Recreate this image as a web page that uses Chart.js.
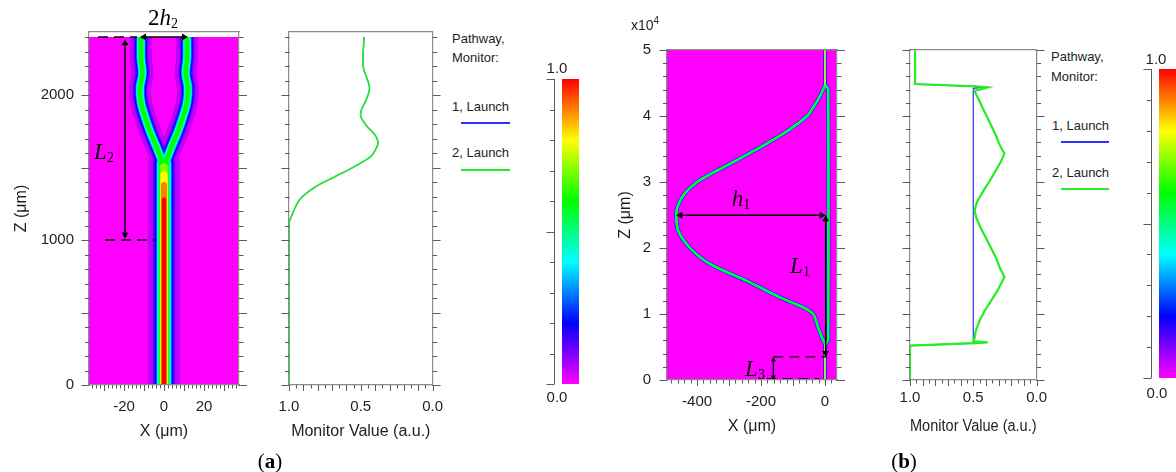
<!DOCTYPE html>
<html>
<head>
<meta charset="utf-8">
<title>Y-branch and coupler field maps</title>
<script src="https://cdn.jsdelivr.net/npm/chart.js@4.4.1/dist/chart.umd.min.js"></script>
<style>
  html, body { margin: 0; padding: 0; background: #fff; }
  #fig { position: relative; width: 1176px; height: 472px; overflow: hidden;
         font-family: 'Liberation Sans', Arial, sans-serif; color: #1e1e1e; }
  #fig canvas { position: absolute; top: 0; }
  .c { position: absolute; white-space: nowrap; line-height: 1; transform: translate(-50%, -50%); }
  .l { position: absolute; white-space: nowrap; line-height: 1; transform: translateY(-50%); font-size: 13px; }
  .key { position: absolute; height: 2px; }
  .sym { font-family: 'Liberation Serif', 'DejaVu Serif', serif; font-size: 23px; color: #000; }
  .sym i { font-style: italic; }
  .sym sub { font-size: 14px; vertical-align: -3px; }
  .cap { font-family: 'Liberation Serif', 'DejaVu Serif', serif; font-size: 21px; color: #000; }
</style>
</head>
<body>
<div id="fig">
  <canvas id="aMap" width="260" height="450" style="left:0"></canvas>
  <canvas id="aMon" width="190" height="450" style="left:260px"></canvas>
  <canvas id="aBar" width="60" height="450" style="left:530px"></canvas>
  <canvas id="bMap" width="255" height="450" style="left:600px"></canvas>
  <canvas id="bMon" width="180" height="450" style="left:870px"></canvas>
  <canvas id="bBar" width="80" height="450" style="left:1110px"></canvas>

  <!-- legends -->
  <div class="l" style="left:452px;top:38px">Pathway,</div>
  <div class="l" style="left:452px;top:57px">Monitor:</div>
  <div class="l" style="left:452px;top:106px">1, Launch</div>
  <div class="key" style="left:461px;top:122px;width:49px;background:#3030ff"></div>
  <div class="l" style="left:452px;top:152px">2, Launch</div>
  <div class="key" style="left:461px;top:169px;width:49px;background:#22ee22"></div>

  <div class="l" style="left:1051px;top:56px">Pathway,</div>
  <div class="l" style="left:1051px;top:76px">Monitor:</div>
  <div class="l" style="left:1052px;top:125px">1, Launch</div>
  <div class="key" style="left:1061px;top:141px;width:48px;background:#3030ff"></div>
  <div class="l" style="left:1052px;top:172px">2, Launch</div>
  <div class="key" style="left:1061px;top:188px;width:48px;background:#22ee22"></div>

  <!-- colour bar ends -->
  <div class="c" style="left:557px;top:67px;font-size:15px">1.0</div>
  <div class="c" style="left:557px;top:396px;font-size:15px">0.0</div>
  <div class="c" style="left:1156px;top:58px;font-size:15px">1.0</div>
  <div class="c" style="left:1157px;top:392px;font-size:15px">0.0</div>

  <div class="l" style="left:631px;top:24px;font-size:14px">x10<sup style="font-size:10px">4</sup></div>

  <!-- geometry symbols -->
  <div class="c sym" style="left:163px;top:18px">2<i>h</i><sub>2</sub></div>
  <div class="c sym" style="left:104px;top:152px"><i>L</i><sub>2</sub></div>
  <div class="c sym" style="left:741px;top:199px"><i>h</i><sub>1</sub></div>
  <div class="c sym" style="left:800px;top:266px"><i>L</i><sub>1</sub></div>
  <div class="c sym" style="left:755px;top:369px"><i>L</i><sub>3</sub></div>

  <div class="c cap" style="left:270px;top:461px">(<b>a</b>)</div>
  <div class="c cap" style="left:904px;top:461px">(<b>b</b>)</div>
</div>

<script>
// ---------- colour scale shared by both field maps ----------
const cmapStops = [0, 0.2, 0.4, 0.6, 0.8, 1.0];
const cmapColors = ['#ff00ff', '#0000ff', '#00ffff', '#00ff00', '#ffff00', '#ff0000'];

// ---------- (a) Y-branch ----------
const aXTicks = [-20, 0, 20];
const aZTicks = [0, 1000, 2000];
// intensity contours of the input trunk (x = 0): level, half width (um), top (um)
const aTrunkLevels = [0.05, 0.12, 0.2, 0.3, 0.4, 0.5, 0.6, 0.7, 0.8, 0.9, 1.0];
const aTrunkHalfW  = [8, 5.6, 4.6, 3.9, 3.4, 2.9, 2.5, 2.1, 1.8, 1.5, 1.1];
const aTrunkTop    = [1530, 1530, 1530, 1530, 1530, 1530, 1530, 1500, 1450, 1380, 1280];
// the two output arms (mirror images)
const aBranchLevels = [0.05, 0.12, 0.2, 0.3, 0.4, 0.5, 0.6];
const aBranchHalfW  = [5.5, 3.6, 2.8, 2.3, 1.9, 1.5, 1.0];
const aBranchZ = [1520, 1580, 1650, 1750, 1850, 1950, 2050, 2150, 2250, 2400];
const aBranchX = [0, 2, 4, 7, 9.5, 11.5, 12, 10.8, 11.5, 11.5];
// monitor value along z
const aMonZ = [0, 1115, 1161, 1276, 1368, 1437, 1506, 1575, 1644, 1678, 1724, 1782, 1851,
               1900, 1960, 2020, 2060, 2110, 2180, 2250, 2400];
const aMonV = [1.0, 1.0, 0.984, 0.928, 0.815, 0.68, 0.545, 0.432, 0.387, 0.381, 0.40, 0.455, 0.50,
               0.495, 0.465, 0.443, 0.44, 0.455, 0.48, 0.485, 0.477];
// dimension marks
const aSpanX = [-10, 10], aSpanZ = [2400, 2400];
const aL2X = [-19.5, -19.5], aL2Z = [2357, 1038];
const aDashTopX = [-33, -13.5], aDashTopZ = [2400, 2400];
const aDashLowX = [-29.5, -4.5], aDashLowZ = [1000, 1000];

// ---------- (b) bent-arm coupler ----------
const bXTicks = [-400, -200, 0];
const bZTicks = [0, 10000, 20000, 30000, 40000, 50000];
const bGuideLevels = [0.2, 0.5, 0.8];
const bGuideHalfW  = [5, 3.2, 1.5];
const bInZ = [0, 5500], bOutZ = [44600, 50000];
const bArmLevels = [0.12, 0.25, 0.45, 0.6];
const bArmHalfW  = [6.5, 5, 3.8, 2.6];
const bBendZ = [5500, 6000, 6500, 7000, 8000, 9000, 10000, 11000, 12500, 15000, 17600, 20000,
                22600, 25000, 26100, 28000, 30000, 32500, 35000, 37500, 40000, 42000, 43000, 44000, 44600];
const bBendX = [0, -5, -10, -14, -22, -28, -37, -68, -140, -244, -360, -422,
                -459, -465, -462, -443, -400, -307, -212, -125, -56, -28, -16, -6, 0];
const bArmZ = [5300, 5700, 6100, 44000, 44400, 44700];
const bArmX = [0, 6, 10, 10, 6, 0];
// monitor values
const bMon1Z = [0, 5200, 5600, 5700, 5850, 44200, 44340, 44500, 44840, 50000];
const bMon1V = [1.0, 1.0, 0.49, 0.42, 0.5, 0.5, 0.43, 0.49, 0.96, 0.96];
const bMon2Z = [0, 5200, 5600, 5700, 5850, 6300, 7500, 9000, 10500, 12000, 13500, 15600,
                17000, 18500, 20000, 21500, 23000, 24500, 25700, 27000, 28000, 29000, 30000,
                31000, 32000, 33000, 34300, 35000, 36000, 37000, 38000, 39000, 40000, 41000,
                42000, 43000, 43800, 44340, 44500, 44840, 50000];
const bMon2V = [1.0, 1.0, 0.49, 0.385, 0.5, 0.49, 0.48, 0.45, 0.41, 0.36, 0.31, 0.254,
                0.29, 0.32, 0.36, 0.40, 0.44, 0.475, 0.49, 0.47, 0.44, 0.41, 0.375,
                0.345, 0.315, 0.285, 0.254, 0.275, 0.30, 0.32, 0.345, 0.37, 0.395, 0.42,
                0.445, 0.47, 0.49, 0.385, 0.48, 0.96, 0.96];
const bH1X = [-452.5, -10.5], bH1Z = [24960, 24960];
const bL1X = [2, 2], bL1Z = [24353, 4107];
const bL3X = [-161.5, -161.5], bL3Z = [3045, 455];
const bDash1X = [-161.5, 5], bDash1Z = [3500, 3500];
const bDash0X = [-183, -16], bDash0Z = [150, 150];

const monTicks = [1.0, 0.5, 0.0];

// ---------- helpers ----------
Chart.defaults.font.family = "'Liberation Sans', Arial, sans-serif";
Chart.defaults.font.size = 15;
Chart.defaults.color = '#1e1e1e';

const frameColor = '#8c8c8c';
const green = '#22ee22', blue = '#3030ff';
const titleFont = { size: 16 };
const pts = (xs, zs) => xs.map((x, i) => ({ x, y: zs[i] }));

function hexRgb(h) { return [1, 3, 5].map(i => parseInt(h.substr(i, 2), 16)); }
function colorAt(v) {
  for (let i = 1; i < cmapStops.length; i++) {
    if (v <= cmapStops[i]) {
      const t = (v - cmapStops[i - 1]) / (cmapStops[i] - cmapStops[i - 1]);
      const a = hexRgb(cmapColors[i - 1]), b = hexRgb(cmapColors[i]);
      const m = k => Math.round(a[k] + (b[k] - a[k]) * t);
      return `rgb(${m(0)},${m(1)},${m(2)})`;
    }
  }
  return cmapColors[cmapColors.length - 1];
}
// line width from a half width in um, through the x scale
const umWidth = hw => ctx => {
  const s = ctx.chart.scales.x;
  return Math.max(0.8, 2 * hw * Math.abs(s.getPixelForValue(1) - s.getPixelForValue(0)));
};
const fixed = size => s => { if (s.isHorizontal()) s.height = size; else s.width = size; };
const only = values => s => { s.ticks = values.map(v => ({ value: v })); };

function beamSets(layers, tension) {
  layers.sort((p, q) => p.lv - q.lv || p.rank - q.rank);
  return layers.map((L, i) => ({
    data: L.data, order: 1000 - i, clip: 0,
    borderColor: colorAt(L.lv), borderWidth: umWidth(L.hw),
    borderCapStyle: L.cap, borderJoinStyle: 'round',
    pointRadius: 0, tension: tension, fill: false
  }));
}
function fieldBackground(xMin, xMax, zTop) {
  return { data: pts([xMin, xMax], [zTop, zTop]), order: 5000, clip: 0,
           borderWidth: 0, pointRadius: 0, fill: 'origin', backgroundColor: '#ff00ff' };
}
function arrow(xs, zs, rot, r) {
  return { data: pts(xs, zs), order: -1, clip: false, tension: 0,
           borderColor: '#000', borderWidth: 1.4,
           pointStyle: 'triangle', pointRadius: r, pointRotation: rot,
           pointBackgroundColor: '#000', pointBorderWidth: 0 };
}
function dashed(xs, zs) {
  return { data: pts(xs, zs), order: -1, clip: false, borderColor: '#000', borderWidth: 1.4,
           borderDash: [10, 6], pointRadius: 0 };
}

// tick marks with short minor and long major ticks, drawn through the scales
function frameTicks(specs) {
  return {
    id: 'frameTicks',
    afterDraw(chart) {
      const ctx = chart.ctx, area = chart.chartArea;
      ctx.save();
      ctx.strokeStyle = '#5a5a5a';
      ctx.lineWidth = 1;
      ctx.beginPath();
      specs.forEach(s => {
        const sc = chart.scales[s.scale];
        const gap = s.gap || 0;
        if (s.spine) {
          const x0 = Math.round(area.left - gap) + 0.5;
          ctx.moveTo(x0, sc.getPixelForValue(s.from));
          ctx.lineTo(x0, sc.getPixelForValue(s.to));
        }
        const n = Math.round((s.to - s.from) / s.minor);
        for (let i = 0; i <= n; i++) {
          const v = s.from + i * s.minor;
          const r = v / s.major;
          const len = Math.abs(r - Math.round(r)) < 1e-6 ? s.majorLen : s.minorLen;
          const p = Math.round(sc.getPixelForValue(v)) + 0.5;
          if (s.side === 'left') {
            const x0 = Math.round(area.left - gap) + 0.5;
            ctx.moveTo(x0, p); ctx.lineTo(x0 - len, p);
          } else if (s.side === 'right') {
            ctx.moveTo(area.right, p); ctx.lineTo(area.right + len, p);
          } else {
            ctx.moveTo(p, area.bottom); ctx.lineTo(p, area.bottom + len);
          }
        }
      });
      ctx.stroke();
      ctx.restore();
    }
  };
}

function frameScales(o) {
  const border = { color: frameColor, width: 1.2, z: o.borderZ };
  return {
    x: {
      type: 'linear', position: 'bottom', min: o.xMin, max: o.xMax, reverse: !!o.xReverse,
      afterFit: fixed(o.bottom), afterBuildTicks: only(o.xTicks),
      ticks: { padding: o.xPad, maxRotation: 0, autoSkip: false, callback: o.xFmt },
      grid: { display: false, drawTicks: true, tickLength: 6 },
      border,
      title: { display: true, text: o.xTitle, font: titleFont, padding: { top: 0, bottom: o.xTitlePad } }
    },
    y: {
      type: 'linear', position: 'left', min: 0, max: o.zMax,
      afterFit: fixed(o.left), afterBuildTicks: only(o.zTicks),
      ticks: { display: !!o.zFmt, padding: o.zPad || 7, autoSkip: false, callback: o.zFmt },
      grid: { display: false, drawTicks: true, tickLength: 8 },
      border,
      title: { display: !!o.zTitle, text: o.zTitle || '', font: titleFont, padding: { top: o.zTitlePad || 0, bottom: 0 } }
    },
    y2: {
      type: 'linear', position: 'right', min: 0, max: o.zMax, afterFit: fixed(o.right),
      ticks: { display: false }, grid: { display: false, drawTicks: false }, border
    },
    x2: {
      type: 'linear', position: 'top', min: o.xMin, max: o.xMax, afterFit: fixed(0),
      ticks: { display: false }, grid: { display: false, drawTicks: false }, border
    }
  };
}

const baseOptions = {
  responsive: false, animation: false, devicePixelRatio: 1, events: [],
  plugins: { legend: { display: false }, tooltip: { enabled: false } }
};

function sideTicks(zTo, zMinor, zMajor) {
  return [
    { scale: 'y', side: 'left', from: 0, to: zTo, minor: zMinor, major: zMajor, majorLen: 8, minorLen: 4.5 },
    { scale: 'y', side: 'right', from: 0, to: zTo, minor: zMinor, major: zMajor, majorLen: 8, minorLen: 4.5 }
  ];
}

// ---------- (a) field map ----------
const aLayers = [];
aTrunkLevels.forEach((lv, i) => aLayers.push({
  lv, rank: 0, data: pts([0, 0], [0, aTrunkTop[i]]), hw: aTrunkHalfW[i], cap: 'round' }));
aBranchLevels.forEach((lv, i) => {
  aLayers.push({ lv, rank: 1, data: pts(aBranchX.map(x => -x), aBranchZ), hw: aBranchHalfW[i], cap: 'butt' });
  aLayers.push({ lv, rank: 1, data: pts(aBranchX, aBranchZ), hw: aBranchHalfW[i], cap: 'butt' });
});

new Chart(document.getElementById('aMap'), {
  type: 'line',
  data: { datasets: [
    fieldBackground(-37.5, 37.5, 2400),
    ...beamSets(aLayers, 0.35),
    dashed(aDashTopX, aDashTopZ),
    dashed(aDashLowX, aDashLowZ),
    arrow(aSpanX, aSpanZ, [-90, 90], 4),
    arrow(aL2X, aL2Z, [0, 180], 4)
  ] },
  options: {
    ...baseOptions,
    layout: { padding: { top: 32, left: 0, right: 0, bottom: 0 }, autoPadding: false },
    scales: frameScales({
      xMin: -37.5, xMax: 37.5, xTicks: aXTicks, xFmt: v => String(v), xPad: 7,
      xTitle: 'X (μm)', xTitlePad: 8.5, bottom: 65,
      zMax: 2435, zTicks: aZTicks, zFmt: v => String(v), zPad: 7,
      zTitle: 'Z (μm)', zTitlePad: 11.5, left: 89, right: 21, borderZ: 1
    })
  },
  plugins: [frameTicks([
    ...sideTicks(2400, 100, 500),
    { scale: 'x', side: 'bottom', from: -36, to: 36, minor: 2, major: 10, majorLen: 6, minorLen: 3.5 }
  ])]
});

// ---------- (a) monitor ----------
new Chart(document.getElementById('aMon'), {
  type: 'line',
  data: { datasets: [
    { data: pts(aMonV, aMonZ), borderColor: green, borderWidth: 1.6, pointRadius: 0, tension: 0.3, order: 0 },
    { data: pts(aMonV, aMonZ), borderColor: blue, borderWidth: 1.2, pointRadius: 0, tension: 0.3, order: 1 }
  ] },
  options: {
    ...baseOptions,
    layout: { padding: { top: 32, left: 0, right: 0, bottom: 0 }, autoPadding: false },
    scales: frameScales({
      xMin: 0, xMax: 1, xReverse: true, xTicks: monTicks, xFmt: v => v.toFixed(1), xPad: 7,
      xTitle: 'Monitor Value (a.u.)', xTitlePad: 8.5, bottom: 65,
      zMax: 2435, zTicks: aZTicks, left: 29, right: 13, borderZ: 0
    })
  },
  plugins: [frameTicks([
    ...sideTicks(2400, 100, 500),
    { scale: 'x', side: 'bottom', from: 0, to: 1, minor: 0.05, major: 0.1, majorLen: 6, minorLen: 3.5 }
  ])]
});

// ---------- colour bars ----------
function rainbow(ctx) {
  const chart = ctx.chart;
  if (!chart.chartArea) return cmapColors[0];
  const y = chart.scales.y;
  const g = chart.ctx.createLinearGradient(0, y.getPixelForValue(0), 0, y.getPixelForValue(1));
  cmapStops.forEach((s, i) => g.addColorStop(s, cmapColors[i]));
  return g;
}
function colourBar(id, pad, gap) {
  new Chart(document.getElementById(id), {
    type: 'bar',
    data: { labels: ['field'], datasets: [{ data: [1], backgroundColor: rainbow,
      borderWidth: 0, barPercentage: 1, categoryPercentage: 1 }] },
    options: {
      ...baseOptions,
      layout: { padding: pad, autoPadding: false },
      scales: {
        x: { display: false },
        y: { display: false, min: 0, max: 1 }
      }
    },
    plugins: [frameTicks([
      { scale: 'y', side: 'left', gap, spine: true, from: 0, to: 1, minor: 0.1, major: 0.5, majorLen: 8, minorLen: 4.5 }
    ])]
  });
}
colourBar('aBar', { left: 32, right: 11, top: 79, bottom: 66 }, 8.5);
colourBar('bBar', { left: 49, right: 10, top: 69, bottom: 72 }, 8);

// ---------- (b) field map ----------
const bLayers = [];
bGuideLevels.forEach((lv, i) => {
  bLayers.push({ lv, rank: 0, data: pts([0, 0], bInZ), hw: bGuideHalfW[i], cap: 'butt' });
  bLayers.push({ lv, rank: 0, data: pts([0, 0], bOutZ), hw: bGuideHalfW[i], cap: 'butt' });
});
bArmLevels.forEach((lv, i) => {
  bLayers.push({ lv, rank: 1, data: pts(bBendX, bBendZ), hw: bArmHalfW[i], cap: 'round' });
  bLayers.push({ lv, rank: 1, data: pts(bArmX, bArmZ), hw: bArmHalfW[i], cap: 'round' });
});

new Chart(document.getElementById('bMap'), {
  type: 'line',
  data: { datasets: [
    fieldBackground(-494, 37.5, 50000),
    ...beamSets(bLayers, 0.3),
    dashed(bDash1X, bDash1Z),
    dashed(bDash0X, bDash0Z),
    arrow(bH1X, bH1Z, [-90, 90], 4),
    arrow(bL1X, bL1Z, [0, 180], 4),
    arrow(bL3X, bL3Z, [0, 180], 3)
  ] },
  options: {
    ...baseOptions,
    layout: { padding: { top: 50, left: 0, right: 0, bottom: 0 }, autoPadding: false },
    scales: frameScales({
      xMin: -494, xMax: 37.5, xTicks: bXTicks, xFmt: v => String(v), xPad: 7,
      xTitle: 'X (μm)', xTitlePad: 13.5, bottom: 70,
      zMax: 50000, zTicks: bZTicks, zFmt: v => String(v / 10000), zPad: 8,
      zTitle: 'Z (μm)', zTitlePad: 15.5, left: 67, right: 18, borderZ: 1
    })
  },
  plugins: [frameTicks([
    ...sideTicks(50000, 2000, 10000),
    { scale: 'x', side: 'bottom', from: -480, to: 20, minor: 20, major: 100, majorLen: 6, minorLen: 3.5 }
  ])]
});

// ---------- (b) monitor ----------
new Chart(document.getElementById('bMon'), {
  type: 'line',
  data: { datasets: [
    { data: pts(bMon2V, bMon2Z), borderColor: green, borderWidth: 2.2, pointRadius: 0, tension: 0, order: 0 },
    { data: pts(bMon1V, bMon1Z), borderColor: blue, borderWidth: 1.2, pointRadius: 0, tension: 0, order: 1 }
  ] },
  options: {
    ...baseOptions,
    layout: { padding: { top: 50, left: 0, right: 0, bottom: 0 }, autoPadding: false },
    scales: frameScales({
      xMin: 0, xMax: 1, xReverse: true, xTicks: monTicks, xFmt: v => v.toFixed(1), xPad: 3,
      xTitle: 'Monitor Value (a.u.)', xTitlePad: 13.5, bottom: 70,
      zMax: 50000, zTicks: bZTicks, left: 40, right: 13, borderZ: 0
    })
  },
  plugins: [frameTicks([
    ...sideTicks(50000, 2000, 10000),
    { scale: 'x', side: 'bottom', from: 0, to: 1, minor: 0.05, major: 0.1, majorLen: 6, minorLen: 3.5 }
  ])]
});
</script>
</body>
</html>
